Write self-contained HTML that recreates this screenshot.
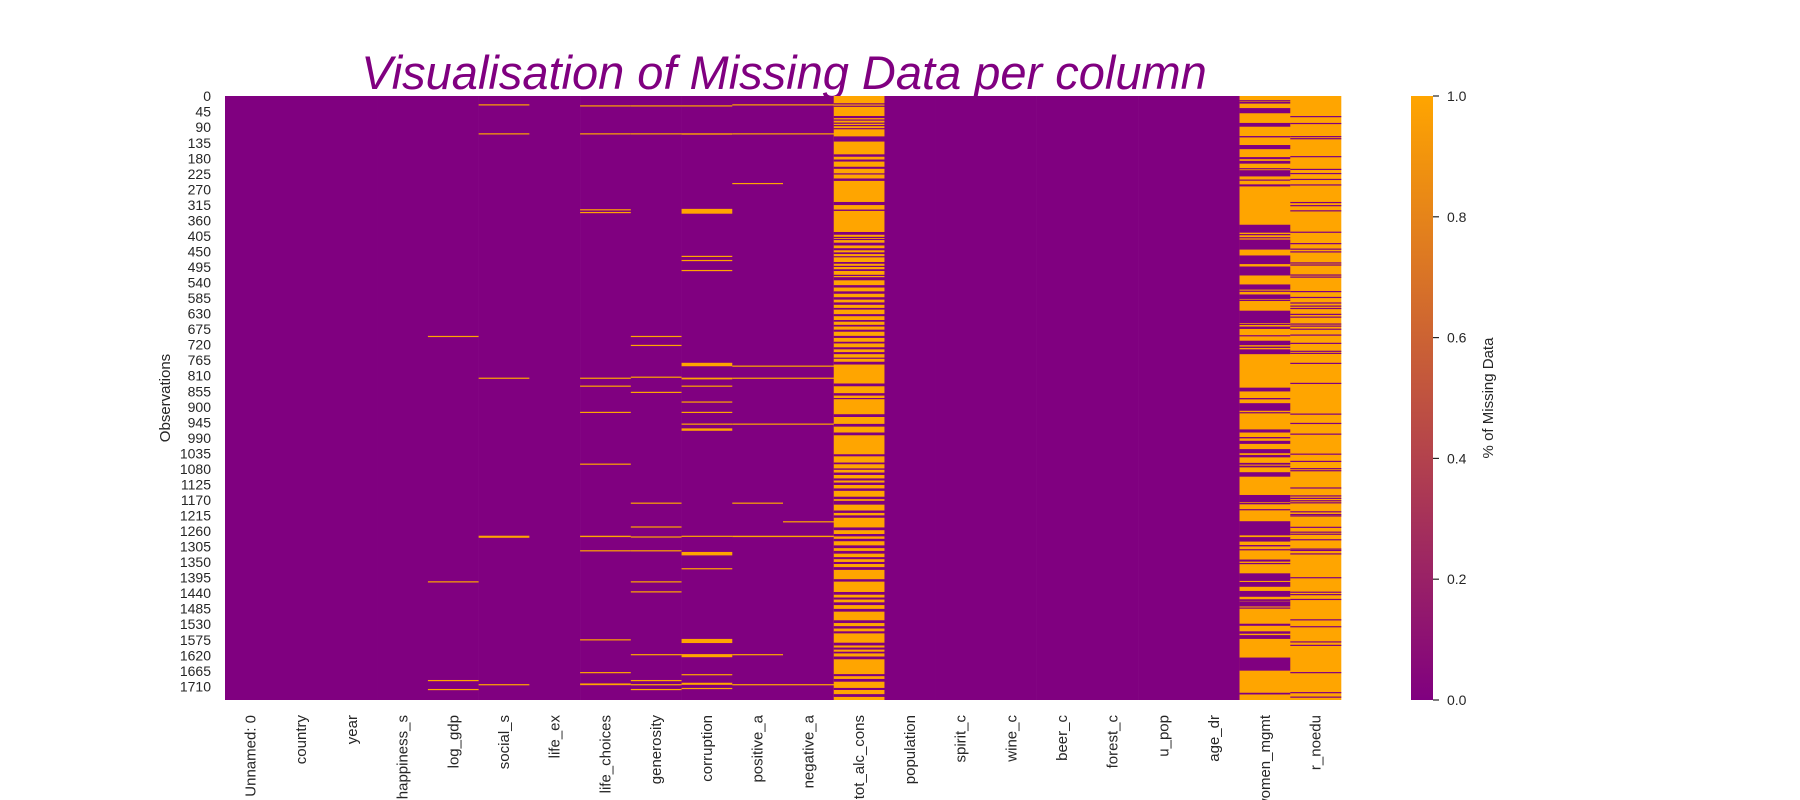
<!DOCTYPE html>
<html><head><meta charset="utf-8"><style>
html,body{margin:0;padding:0;background:#fff;}
svg{display:block;font-family:"Liberation Sans",Arial,sans-serif;}
</style></head><body>
<svg id="chart" width="1800" height="800" viewBox="0 0 1800 800" xmlns="http://www.w3.org/2000/svg">
<defs><linearGradient id="cbar" x1="0" y1="1" x2="0" y2="0"><stop offset="0" stop-color="#800080"/><stop offset="1" stop-color="#ffa500"/></linearGradient></defs>
<text x="784" y="89" text-anchor="middle" font-size="47" font-style="italic" fill="#800080">Visualisation of Missing Data per column</text>
<g id="cells"></g>
<g id="yticks"></g>
<g id="xticks"></g>
<text transform="translate(170,398) rotate(-90)" text-anchor="middle" font-size="15" fill="#262626">Observations</text>
<rect x="1411" y="96" width="22" height="604" fill="url(#cbar)"/>
<g id="cticks"></g>
<text transform="translate(1493,398) rotate(-90)" text-anchor="middle" font-size="15" fill="#262626">% of Missing Data</text>
</svg>
<script>
const columns = ["Unnamed: 0","country","year","happiness_s","log_gdp","social_s","life_ex","life_choices","generosity","corruption","positive_a","negative_a","tot_alc_cons","population","spirit_c","wine_c","beer_c","forest_c","u_pop","age_dr","women_mgmt","r_noedu"];
const nRows = 1750;
const yTickStep = 45;
const colorTicks = [0,0.2,0.4,0.6,0.8,1.0];
// missing intervals [start,end] rows for sparse columns
const missLogGdp = [[695,696],[1406,1407],[1692,1693],[1718,1719]];
const missSocial = [[24,25],[108,109],[816,817],[1274,1279],[1704,1705]];
const missLifeChoices = [[27,28],[108,109],[328,329],[336,337],[816,817],[839,840],[915,916],[1065,1066],[1274,1277],[1316,1317],[1574,1575],[1669,1670],[1702,1706]];
const missGenerosity = [[27,28],[108,109],[695,696],[721,722],[813,815],[857,858],[1178,1179],[1247,1248],[1276,1277],[1316,1317],[1406,1407],[1435,1436],[1617,1618],[1692,1693],[1704,1705],[1718,1719]];
const missCorruption = [[27,28],[108,111],[327,340],[463,464],[475,476],[504,505],[773,782],[816,820],[839,840],[885,886],[915,916],[949,950],[963,969],[1274,1276],[1321,1330],[1368,1369],[1573,1584],[1617,1625],[1675,1676],[1700,1705],[1715,1716]];
const missPositive = [[24,25],[108,109],[252,253],[781,782],[816,817],[949,950],[1178,1179],[1274,1277],[1617,1618],[1704,1705]];
const missNegative = [[24,25],[108,109],[781,782],[816,817],[949,950],[1232,1233],[1274,1277],[1704,1705]];
// present (non-missing) intervals for mostly-missing columns
const presAlc = [[21,23],[28,30],[58,63],[68,69],[77,78],[84,85],[93,94],[117,131],[169,175],[184,189],[205,210],[224,225],[239,245],[307,315],[329,332],[394,401],[408,409],[414,415],[425,432],[441,446],[453,457],[464,465],[481,485],[492,493],[502,506],[518,519],[525,533],[548,554],[566,572],[583,589],[598,604],[614,618],[632,637],[649,653],[663,667],[677,682],[695,700],[712,716],[728,733],[742,747],[758,759],[770,777],[833,840],[861,867],[875,876],[922,929],[950,957],[975,982],[1038,1043],[1062,1066],[1079,1082],[1091,1097],[1108,1113],[1120,1126],[1137,1143],[1161,1167],[1173,1183],[1201,1207],[1215,1221],[1250,1257],[1269,1275],[1283,1289],[1302,1309],[1318,1325],[1336,1341],[1350,1355],[1365,1372],[1400,1406],[1437,1444],[1453,1458],[1467,1474],[1486,1493],[1519,1526],[1536,1542],[1551,1556],[1584,1591],[1598,1603],[1610,1614],[1624,1631],[1675,1680],[1689,1696],[1715,1720],[1733,1740]];
const presWomen = [[12,14],[17,21],[35,49],[78,88],[116,119],[142,153],[177,182],[188,195],[209,211],[215,232],[242,244],[256,261],[373,395],[400,402],[409,411],[416,444],[462,486],[494,519],[546,560],[564,566],[575,587],[590,593],[622,657],[660,662],[668,674],[693,695],[709,721],[726,729],[734,747],[845,855],[875,878],[890,911],[916,918],[966,974],[988,991],[999,1007],[1023,1034],[1040,1046],[1063,1067],[1071,1075],[1090,1102],[1156,1176],[1179,1182],[1197,1199],[1232,1272],[1278,1290],[1301,1304],[1313,1315],[1343,1348],[1353,1355],[1383,1404],[1408,1421],[1434,1450],[1458,1462],[1464,1478],[1482,1484],[1529,1534],[1551,1557],[1562,1572],[1627,1664],[1729,1733]];
const presNoedu = [[58,59],[78,79],[116,117],[122,123],[174,175],[211,212],[223,224],[240,241],[256,257],[307,308],[316,317],[331,332],[393,394],[426,427],[442,443],[450,451],[482,483],[488,489],[517,518],[523,524],[565,566],[582,583],[598,599],[607,608],[614,615],[631,632],[639,640],[659,660],[665,666],[674,675],[691,692],[715,716],[738,739],[744,745],[773,774],[831,832],[920,921],[947,948],[978,979],[1036,1037],[1057,1058],[1078,1079],[1084,1085],[1134,1135],[1157,1158],[1164,1165],[1171,1172],[1177,1178],[1203,1204],[1211,1212],[1215,1216],[1248,1249],[1262,1263],[1268,1269],[1284,1285],[1311,1312],[1315,1316],[1325,1326],[1394,1395],[1436,1437],[1443,1444],[1457,1458],[1516,1517],[1536,1537],[1580,1581],[1590,1591],[1669,1670],[1727,1728],[1740,1741]];

const sparse = {4:missLogGdp,5:missSocial,7:missLifeChoices,8:missGenerosity,9:missCorruption,10:missPositive,11:missNegative};
const dense = {12:presAlc,20:presWomen,21:presNoedu};

const NS = "http://www.w3.org/2000/svg";
const L=225, R=1341, T=96, B=700;
const cw=(R-L)/columns.length;
const xPos = i => L + i*cw;
const yPos = r => T + r*(B-T)/nRows;
const PURPLE="#800080", ORANGE="#ffa500";
function mk(tag, attrs, parent){const e=document.createElementNS(NS,tag);for(const k in attrs)e.setAttribute(k,attrs[k]);parent.appendChild(e);return e;}
const cells=document.getElementById('cells');
columns.forEach((c,i)=>{
  const isDense = dense[i]!==undefined;
  const bg=mk('rect',{x:xPos(i),y:T,width:cw+0.3,height:B-T,fill:isDense?ORANGE:PURPLE},cells);
  
  
  const ivs = isDense?dense[i]:(sparse[i]||[]);
  ivs.forEach(iv=>{
    const r=mk('rect',{x:xPos(i),y:yPos(iv[0]),width:cw+0.3,height:Math.max(1.2,yPos(iv[1]+1)-yPos(iv[0])),fill:isDense?PURPLE:ORANGE},cells);
    
    
  });
});
const yt=document.getElementById('yticks');
for(let v=0; v<nRows; v+=yTickStep){
  const t=mk('text',{x:211,y:yPos(v+0.5)+5,'text-anchor':'end','font-size':14,fill:'#262626'},yt);
  t.textContent=v;
  
  
}
const xt=document.getElementById('xticks');
columns.forEach((c,i)=>{
  const cx=xPos(i)+cw/2+5;
  const t=mk('text',{transform:`translate(${cx},715) rotate(-90)`,'text-anchor':'end','font-size':15,fill:'#262626'},xt);
  t.textContent=c;
  
  
});
const ct=document.getElementById('cticks');
colorTicks.forEach(v=>{
  const y=B-v*(B-T);
  const l=mk('line',{x1:1433,x2:1439,y1:y,y2:y,stroke:'#262626','stroke-width':1.2},ct);
  
  
  const t=mk('text',{x:1447,y:y+5,'font-size':14,fill:'#262626'},ct);
  t.textContent=v.toFixed(1);
  
  
});
</script>
</body></html>
